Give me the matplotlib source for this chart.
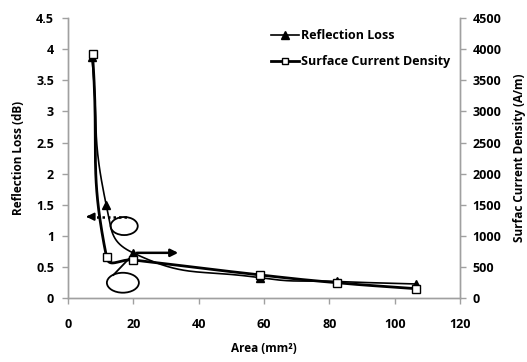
# Reflection loss and surface current density vs area

import numpy as np
import matplotlib.pyplot as plt
from matplotlib.patches import Ellipse
from matplotlib.lines import Line2D

plt.rcParams['font.family'] = ['Open Sans', 'DejaVu Sans']

# Data
area_rl = [7.3, 11.7, 19.9, 58.8, 82.3, 106.4]
reflection_loss = [3.88, 1.50, 0.73, 0.33, 0.27, 0.23]

area_scd = [7.5, 11.8, 20.0, 58.8, 82.3, 106.4]
current_density = [3920, 660, 615, 375, 250, 155]

x_ticks = [0, 20, 40, 60, 80, 100, 120]
left_ticks = [0, 0.5, 1, 1.5, 2, 2.5, 3, 3.5, 4, 4.5]
left_labels = ['0', '0.5', '1', '1.5', '2', '2.5', '3', '3.5', '4', '4.5']
right_ticks = [0, 500, 1000, 1500, 2000, 2500, 3000, 3500, 4000, 4500]


def smooth(x, y, xr, yr, n=40):
    # smoothed line like Excel: bezier whose tangents scale with segment length
    px = np.asarray(x, float) / xr * 392
    py = np.asarray(y, float) / yr * 280
    pts = np.column_stack([px, py])
    out = [pts[:1]]
    t = np.linspace(0, 1, n)[1:, None]
    last = len(pts) - 1
    for i in range(last):
        p0 = pts[max(i - 1, 0)]
        p1 = pts[i]
        p2 = pts[i + 1]
        p3 = pts[min(i + 2, last)]
        d01 = np.hypot(*(p1 - p0))
        d12 = np.hypot(*(p2 - p1))
        d23 = np.hypot(*(p3 - p2))
        c1 = p1 + (p2 - p0) * 0.5 * d12 / (d01 + d12)
        c2 = p2 - (p3 - p1) * 0.5 * d12 / (d12 + d23)
        seg = (1 - t) ** 3 * p1 + 3 * (1 - t) ** 2 * t * c1 + 3 * (1 - t) * t ** 2 * c2 + t ** 3 * p2
        out.append(seg)
    c = np.vstack(out)
    return c[:, 0] / 392 * xr, c[:, 1] / 280 * yr


fig = plt.figure(figsize=(5.27, 3.62), dpi=100)
ax = fig.add_axes([68 / 527, 1 - 298.3 / 362, 392 / 527, 280.3 / 362])
ax2 = ax.twinx()

gray = '#a0a0a0'
tick_font = dict(fontsize=9, fontweight='bold')

# Reflection loss (left axis)
sx, sy = smooth(area_rl, reflection_loss, 120, 4.5)
ax.plot(sx, sy, color='black', lw=1.2)
ax.plot(area_rl, reflection_loss, ls='none', marker='^', ms=5.5, color='black')

# Surface current density (right axis)
sx, sy = smooth(area_scd, current_density, 120, 4500)
ax2.plot(sx, sy, color='black', lw=2)
ax2.plot(area_scd, current_density, ls='none', marker='s', ms=6,
         mfc='white', mec='black', mew=1)

ax.set_xlim(0, 120)
ax.set_ylim(0, 4.5)
ax2.set_ylim(0, 4500)
ax.set_xticks(x_ticks)
ax.set_xticklabels([str(v) for v in x_ticks], **tick_font)
ax.set_yticks(left_ticks)
ax.set_yticklabels(left_labels, **tick_font)
ax2.set_yticks(right_ticks)
ax2.set_yticklabels([str(v) for v in right_ticks], **tick_font)

for a in (ax, ax2):
    a.spines['top'].set_visible(False)
    for s in ('left', 'right', 'bottom'):
        a.spines[s].set_color(gray)
        a.spines[s].set_linewidth(1)
    a.tick_params(color=gray, length=4, width=1, pad=6)
ax.tick_params(axis='x', pad=10)
ax2.tick_params(axis='y', pad=5)

ax.set_xlabel('Area (mm²)', fontsize=8.5, fontweight='bold', labelpad=8)
ax.set_ylabel('Reflection Loss (dB)', fontsize=8.5, fontweight='bold', labelpad=8)
ax2.set_ylabel('Surfac Current Density (A/m)', fontsize=8.5, fontweight='bold',
               rotation=90, labelpad=8)

# Annotations: ellipses and arrows
ax.add_patch(Ellipse((17.2, 1.16), 8.3, 0.29, fill=False, lw=1.3, ec='black'))
ax.add_patch(Ellipse((16.8, 0.25), 9.8, 0.32, fill=False, lw=1.3, ec='black'))
ax.plot([7.0, 18.4], [1.31, 1.31], color='black', lw=1.8, ls=(0, (1, 1.2)))
ax.annotate('', xy=(4.7, 1.31), xytext=(7.5, 1.31),
            arrowprops=dict(arrowstyle='-|>', lw=1.5, color='black',
                            mutation_scale=11))
ax.plot([13.9, 20.2], [0.375, 0.72], color='black', lw=1.3)
ax.annotate('', xy=(34.6, 0.73), xytext=(20.2, 0.73),
            arrowprops=dict(arrowstyle='-|>', lw=1.8, color='black',
                            mutation_scale=11))

handles = [
    Line2D([], [], color='black', lw=1.2, marker='^', ms=5.5),
    Line2D([], [], color='black', lw=2, marker='s', ms=5, mfc='white', mec='black'),
]
fig.legend(handles, ['Reflection Loss', 'Surface Current Density'],
           loc='upper left', bbox_to_anchor=(271 / 527, 1 - 29 / 362),
           frameon=False, borderpad=0, borderaxespad=0, handlelength=2.2,
           handletextpad=0.2, labelspacing=1.05,
           prop=dict(size=9, weight='bold'))

fig.savefig('out.png', dpi=100)
